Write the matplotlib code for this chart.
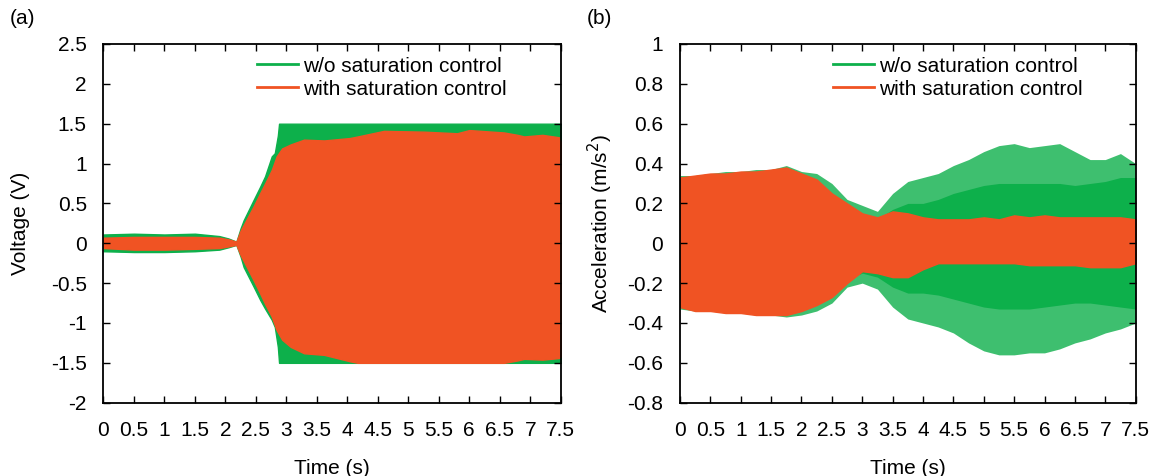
import numpy as np
import matplotlib
matplotlib.use('Agg')
import matplotlib.pyplot as plt
from matplotlib.lines import Line2D

plt.rcParams['font.family'] = ['Liberation Sans', 'DejaVu Sans']

green = '#0db04b'
orange = '#f05323'

# (a) voltage envelopes
t_va_green = [0, 0.5, 1.0, 1.5, 1.9, 2.05, 2.18, 2.25, 2.3, 2.46, 2.57, 2.65, 2.76, 2.81, 2.86, 2.88, 3.5, 4.5, 5.5, 6.5, 7.5]
va_green_hi = [0.11, 0.12, 0.11, 0.12, 0.09, 0.06, 0.02, 0.19, 0.29, 0.54, 0.71, 0.84, 1.09, 1.13, 1.35, 1.5, 1.5, 1.5, 1.5, 1.5, 1.5]
va_green_lo = [-0.1, -0.11, -0.11, -0.1, -0.08, -0.05, -0.02, -0.17, -0.3, -0.54, -0.71, -0.82, -0.96, -1.05, -1.3, -1.5, -1.5, -1.5, -1.5, -1.5, -1.5]

t_va_orange = [0, 0.5, 1.0, 1.5, 1.9, 2.05, 2.18, 2.25, 2.46, 2.57, 2.65, 2.76, 2.84, 2.93, 3.07, 3.29, 3.62, 4.04, 4.17, 4.6, 5.26, 5.8, 6.0, 6.57, 6.79, 6.9, 7.2, 7.47, 7.5]
va_orange_hi = [0.07, 0.08, 0.08, 0.08, 0.07, 0.05, 0.02, 0.16, 0.46, 0.63, 0.75, 0.92, 1.09, 1.19, 1.24, 1.3, 1.29, 1.32, 1.34, 1.41, 1.4, 1.38, 1.42, 1.39, 1.36, 1.34, 1.36, 1.33, 1.27]
va_orange_lo = [-0.06, -0.08, -0.08, -0.07, -0.06, -0.04, -0.02, -0.15, -0.46, -0.63, -0.76, -0.92, -1.09, -1.21, -1.3, -1.38, -1.4, -1.48, -1.5, -1.5, -1.5, -1.5, -1.5, -1.5, -1.47, -1.45, -1.46, -1.44, -1.42]

# (b) acceleration envelopes
t_acc = [0, 0.25, 0.5, 0.75, 1.0, 1.25, 1.5, 1.75, 2.0, 2.25, 2.5, 2.75, 3.0, 3.25, 3.5, 3.75, 4.0, 4.25, 4.5, 4.75, 5.0, 5.25, 5.5, 5.75, 6.0, 6.25, 6.5, 6.75, 7.0, 7.25, 7.5]
acc_green_hi = [0.34, 0.34, 0.35, 0.36, 0.36, 0.37, 0.37, 0.39, 0.36, 0.35, 0.3, 0.22, 0.19, 0.16, 0.25, 0.31, 0.33, 0.35, 0.39, 0.42, 0.46, 0.49, 0.5, 0.48, 0.49, 0.5, 0.46, 0.42, 0.42, 0.45, 0.40]
acc_green_lo = [-0.33, -0.34, -0.33, -0.34, -0.35, -0.35, -0.36, -0.37, -0.36, -0.34, -0.3, -0.22, -0.2, -0.23, -0.32, -0.38, -0.4, -0.42, -0.45, -0.5, -0.54, -0.56, -0.56, -0.55, -0.55, -0.53, -0.5, -0.48, -0.45, -0.43, -0.40]
acc_green_body_hi = [0.3, 0.3, 0.31, 0.32, 0.32, 0.33, 0.33, 0.33, 0.32, 0.3, 0.25, 0.18, 0.15, 0.12, 0.17, 0.2, 0.2, 0.22, 0.25, 0.27, 0.29, 0.3, 0.3, 0.3, 0.3, 0.3, 0.29, 0.3, 0.31, 0.33, 0.33]
acc_green_body_lo = [-0.3, -0.3, -0.3, -0.31, -0.31, -0.32, -0.32, -0.33, -0.32, -0.3, -0.25, -0.18, -0.15, -0.17, -0.22, -0.25, -0.25, -0.26, -0.28, -0.3, -0.32, -0.33, -0.33, -0.33, -0.32, -0.31, -0.3, -0.3, -0.31, -0.32, -0.33]
acc_orange_hi = [0.33, 0.34, 0.35, 0.35, 0.36, 0.36, 0.37, 0.38, 0.35, 0.32, 0.25, 0.2, 0.15, 0.13, 0.16, 0.15, 0.13, 0.12, 0.12, 0.12, 0.13, 0.12, 0.14, 0.13, 0.14, 0.13, 0.13, 0.13, 0.13, 0.13, 0.12]
acc_orange_lo = [-0.32, -0.34, -0.34, -0.35, -0.35, -0.36, -0.36, -0.36, -0.34, -0.31, -0.27, -0.2, -0.14, -0.15, -0.17, -0.17, -0.13, -0.1, -0.1, -0.1, -0.1, -0.1, -0.1, -0.11, -0.11, -0.11, -0.11, -0.12, -0.12, -0.12, -0.1]

labels = ['w/o saturation control', 'with saturation control']
xticks = np.arange(0, 7.51, 0.5)
xticklabels = ['0', '0.5', '1', '1.5', '2', '2.5', '3', '3.5', '4', '4.5', '5', '5.5', '6', '6.5', '7', '7.5']

fs = 15
fig = plt.figure(figsize=(11.6, 4.76), dpi=100)
ax1 = fig.add_axes([0.0892, 0.154, 0.3942, 0.7536])
ax2 = fig.add_axes([0.5862, 0.154, 0.3928, 0.7536])

# panel (a)
ax1.fill_between(t_va_green, va_green_lo, va_green_hi, color=green, lw=1, edgecolor=green)
ax1.fill_between(t_va_orange, va_orange_lo, va_orange_hi, color=orange, lw=1, edgecolor=orange)
ax1.set_ylim(-2, 2.5)
ax1.set_yticks(np.arange(-2, 2.51, 0.5))
ax1.set_yticklabels(['-2', '-1.5', '-1', '-0.5', '0', '0.5', '1', '1.5', '2', '2.5'])
ax1.set_ylabel('Voltage (V)', fontsize=fs, labelpad=15)

# panel (b)
ax2.fill_between(t_acc, acc_green_lo, acc_green_hi, color=green, alpha=0.8, lw=0)
ax2.fill_between(t_acc, acc_green_body_lo, acc_green_body_hi, color=green, lw=0)
ax2.fill_between(t_acc, acc_orange_lo, acc_orange_hi, color=orange, lw=1, edgecolor=orange)
ax2.set_ylim(-0.8, 1)
ax2.set_yticks(np.arange(-0.8, 1.01, 0.2))
ax2.set_yticklabels(['-0.8', '-0.6', '-0.4', '-0.2', '0', '0.2', '0.4', '0.6', '0.8', '1'])
ax2.set_ylabel('Acceleration (m/s$^2$)', fontsize=fs, labelpad=9)

handles = [Line2D([], [], color=green, lw=2), Line2D([], [], color=orange, lw=2)]
for ax, tag in [(ax1, '(a)'), (ax2, '(b)')]:
    ax.set_xlim(0, 7.5)
    ax.set_xticks(xticks)
    ax.set_xticklabels(xticklabels)
    ax.set_xlabel('Time (s)', fontsize=fs, labelpad=14)
    ax.tick_params(direction='in', top=True, right=True, length=5, width=1, labelsize=fs, pad=12)
    ax.tick_params(axis='x', pad=13)
    for s in ax.spines.values():
        s.set_linewidth(1.3)
    ax.legend(handles, labels, loc='upper left', bbox_to_anchor=(0.336, 0.965), frameon=False,
              fontsize=fs, handlelength=1.95, handletextpad=0.25, labelspacing=0.2,
              borderpad=0, borderaxespad=0)
    ax.text(-0.205, 1.072, tag, transform=ax.transAxes, fontsize=fs, va='center')

fig.savefig('out.png', dpi=100)
